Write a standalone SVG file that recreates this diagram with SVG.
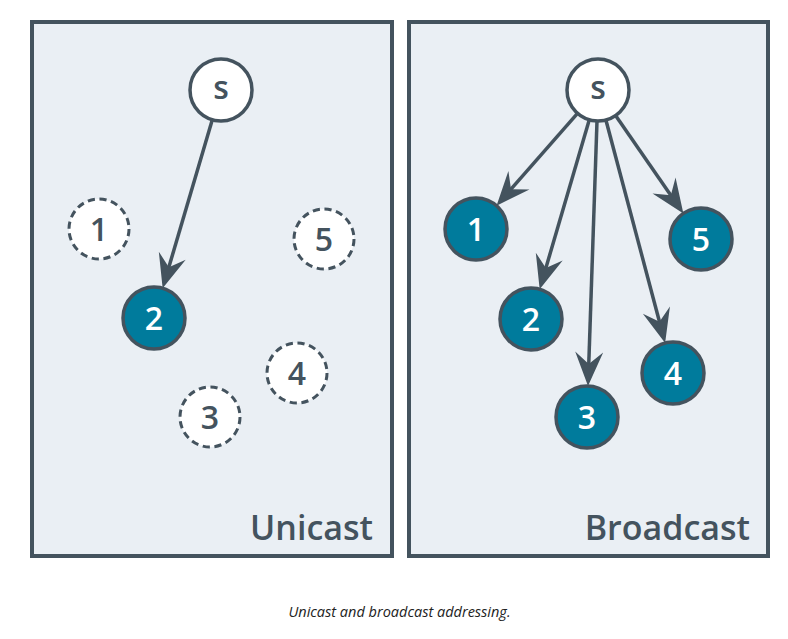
<svg xmlns="http://www.w3.org/2000/svg" width="788" height="639" viewBox="0 0 788 639">
<style>
.panel{fill:#eaeff4;stroke:#44535e;stroke-width:4}
.src{fill:#ffffff;stroke:#44535e;stroke-width:3.5}
.idle{fill:#ffffff;stroke:#44535e;stroke-width:3;stroke-dasharray:7.2 4.6}
.hit{fill:#007b9c;stroke:#44535e;stroke-width:3.5}
.lbl{font-family:"Open Sans","Noto Sans","Liberation Sans",sans-serif;font-size:32px;font-weight:600;text-anchor:middle}
.dark{fill:#44535e}
.light{fill:#ffffff}
.title{font-family:"Open Sans","Noto Sans","Liberation Sans",sans-serif;font-size:34px;font-weight:600;fill:#44535e;text-anchor:end}
.cap{font-family:"Open Sans","Noto Sans","Liberation Sans",sans-serif;font-size:14.5px;font-style:italic;fill:#222222;text-anchor:middle}
.edge{stroke:#44535e;stroke-width:3.5;fill:none;marker-end:url(#arr)}
</style>
<defs>
<marker id="arr" markerUnits="userSpaceOnUse" orient="auto" viewBox="-20 -16 44 32" refX="0" refY="0" markerWidth="44" markerHeight="32">
<path d="M20,0 L-14,-14 L-2,0 L-14,14 Z" fill="#44535e"/>
</marker>
</defs>
<g id="unicast-panel">
<rect class="panel" x="32" y="22" width="360" height="534"/>
<text class="title" x="373" y="540">Unicast</text>
</g>
<g id="broadcast-panel">
<rect class="panel" x="409" y="22" width="359" height="534"/>
<text class="title" x="750" y="540">Broadcast</text>
</g>
<g id="u-s"><circle class="src" cx="221" cy="90" r="31"/><text class="lbl dark" x="221" y="99">s</text></g>
<g id="u-1"><circle class="idle" cx="99" cy="229" r="30"/><text class="lbl dark" x="99" y="240.5">1</text></g>
<g id="u-2"><circle class="hit" cx="154" cy="318" r="31"/><text class="lbl light" x="154" y="329.5">2</text></g>
<g id="u-3"><circle class="idle" cx="210" cy="417" r="30"/><text class="lbl dark" x="210" y="428.5">3</text></g>
<g id="u-4"><circle class="idle" cx="297" cy="373" r="30"/><text class="lbl dark" x="297" y="384.5">4</text></g>
<g id="u-5"><circle class="idle" cx="324" cy="239" r="30"/><text class="lbl dark" x="324" y="250.5">5</text></g>
<g id="b-s"><circle class="src" cx="598" cy="90" r="31"/><text class="lbl dark" x="598" y="99">s</text></g>
<g id="b-1"><circle class="hit" cx="476" cy="229" r="31"/><text class="lbl light" x="476" y="240.5">1</text></g>
<g id="b-2"><circle class="hit" cx="531" cy="319" r="31"/><text class="lbl light" x="531" y="330.5">2</text></g>
<g id="b-3"><circle class="hit" cx="587" cy="417" r="31"/><text class="lbl light" x="587" y="428.5">3</text></g>
<g id="b-4"><circle class="hit" cx="673" cy="373" r="31"/><text class="lbl light" x="673" y="384.5">4</text></g>
<g id="b-5"><circle class="hit" cx="701" cy="239" r="31"/><text class="lbl light" x="701" y="250.5">5</text></g>
<g id="connectors">
<line class="edge" x1="212.3" y1="119.7" x2="168.3" y2="269.1"/>
<line class="edge" x1="577.5" y1="113.3" x2="509.7" y2="190.7"/>
<line class="edge" x1="589.3" y1="119.8" x2="545.3" y2="270.0"/>
<line class="edge" x1="597.0" y1="121.0" x2="588.7" y2="366.0"/>
<line class="edge" x1="605.9" y1="120.0" x2="660.0" y2="323.7"/>
<line class="edge" x1="615.6" y1="115.5" x2="672.0" y2="197.0"/>
</g>
<text class="cap" x="399.5" y="617">Unicast and broadcast addressing.</text>
</svg>
